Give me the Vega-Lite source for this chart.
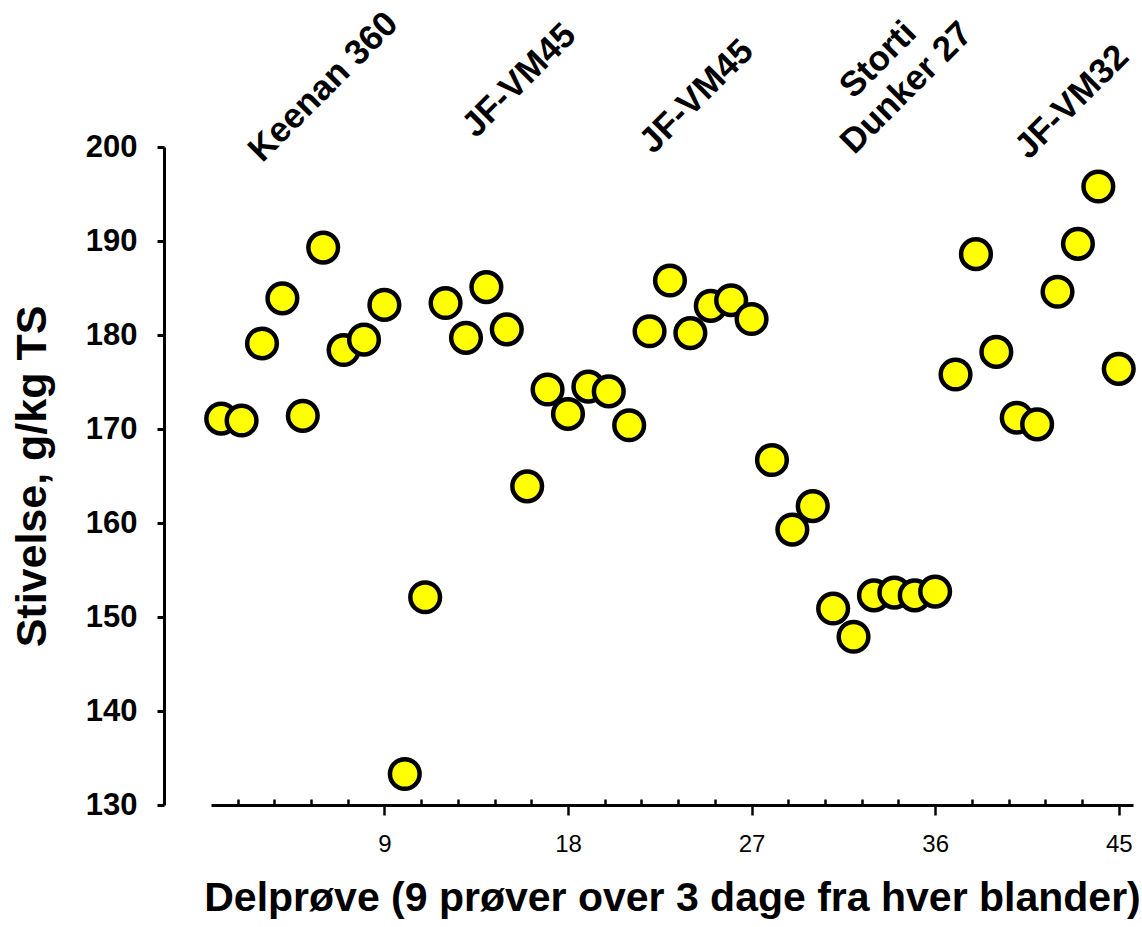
{
  "$schema": "https://vega.github.io/schema/vega-lite/v6.json",
  "width": 922,
  "height": 658,
  "autosize": {"type": "none"},
  "padding": {"left": 211, "top": 147, "right": 9, "bottom": 122},
  "background": "white",
  "config": {
    "view": {"stroke": null},
    "axis": {"grid": false, "domainColor": "black", "tickColor": "black", "labelColor": "black", "titleColor": "black"}
  },
  "datasets": {
    "points": [
      {"sample": 1, "starch": 171.1}, {"sample": 2, "starch": 170.9}, {"sample": 3, "starch": 179.1},
      {"sample": 4, "starch": 183.9}, {"sample": 5, "starch": 171.4}, {"sample": 6, "starch": 189.3},
      {"sample": 7, "starch": 178.4}, {"sample": 8, "starch": 179.5}, {"sample": 9, "starch": 183.2},
      {"sample": 10, "starch": 133.3}, {"sample": 11, "starch": 152.1}, {"sample": 12, "starch": 183.4},
      {"sample": 13, "starch": 179.7}, {"sample": 14, "starch": 185.1}, {"sample": 15, "starch": 180.6},
      {"sample": 16, "starch": 163.9}, {"sample": 17, "starch": 174.2}, {"sample": 18, "starch": 171.6},
      {"sample": 19, "starch": 174.5}, {"sample": 20, "starch": 174.0}, {"sample": 21, "starch": 170.4},
      {"sample": 22, "starch": 180.4}, {"sample": 23, "starch": 185.8}, {"sample": 24, "starch": 180.2},
      {"sample": 25, "starch": 183.1}, {"sample": 26, "starch": 183.7}, {"sample": 27, "starch": 181.7},
      {"sample": 28, "starch": 166.7}, {"sample": 29, "starch": 159.3}, {"sample": 30, "starch": 161.8},
      {"sample": 31, "starch": 150.9}, {"sample": 32, "starch": 147.9}, {"sample": 33, "starch": 152.3},
      {"sample": 34, "starch": 152.6}, {"sample": 35, "starch": 152.3}, {"sample": 36, "starch": 152.7},
      {"sample": 37, "starch": 175.8}, {"sample": 38, "starch": 188.6}, {"sample": 39, "starch": 178.2},
      {"sample": 40, "starch": 171.2}, {"sample": 41, "starch": 170.5}, {"sample": 42, "starch": 184.6},
      {"sample": 43, "starch": 189.7}, {"sample": 44, "starch": 195.8}, {"sample": 45, "starch": 176.4}
    ],
    "labels": [
      {"pos": 6.0, "level": 206.4, "label": "Keenan 360"},
      {"pos": 15.6, "level": 207.1, "label": "JF-VM45"},
      {"pos": 24.3, "level": 205.4, "label": "JF-VM45"},
      {"pos": 33.2, "level": 209.3, "label": "Storti\nDunker 27"},
      {"pos": 42.7, "level": 204.8, "label": "JF-VM32"}
    ]
  },
  "resolve": {"axis": {"x": "independent"}},
  "layer": [
    {
      "data": {"name": "points"},
      "mark": {"type": "point", "shape": "circle", "filled": true, "fill": "#FFFF00", "stroke": "black", "strokeWidth": 4.5, "size": 880, "opacity": 1},
      "encoding": {
        "x": {
          "field": "sample", "type": "quantitative",
          "scale": {"domain": [0.5, 45.7], "nice": false, "zero": false},
          "axis": {
            "orient": "bottom",
            "title": "Delprøve (9 prøver over 3 dage fra hver blander)",
            "values": [9, 18, 27, 36, 45],
            "tickSize": 10,
            "tickWidth": 2.5,
            "domainWidth": 3,
            "labelFont": "Liberation Sans",
            "labelFontSize": 24,
            "labelPadding": 17,
            "labelFlush": false,
            "labelOverlap": false,
            "titleFont": "Liberation Sans",
            "titleFontSize": 41,
            "titleFontWeight": "bold",
            "titlePadding": 22
          }
        },
        "y": {
          "field": "starch", "type": "quantitative",
          "scale": {"domain": [130, 200], "nice": false, "zero": false},
          "axis": {
            "title": "Stivelse, g/kg TS",
            "values": [130, 140, 150, 160, 170, 180, 190, 200],
            "offset": 47,
            "tickSize": 7,
            "tickWidth": 3,
            "domainWidth": 3,
            "labelFont": "Liberation Sans",
            "labelFontWeight": "bold",
            "labelFontSize": 31,
            "labelPadding": 20,
            "titleFont": "Liberation Sans",
            "titleFontSize": 43,
            "titleFontWeight": "bold",
            "titlePadding": 31
          }
        }
      }
    },
    {
      "data": {"name": "labels"},
      "mark": {"type": "text", "angle": -45, "align": "center", "baseline": "middle", "font": "Liberation Sans", "fontWeight": "bold", "fontSize": 35, "lineBreak": "\n", "lineHeight": 40, "color": "black"},
      "encoding": {
        "x": {
          "field": "pos", "type": "quantitative",
          "axis": {
            "orient": "bottom",
            "title": null,
            "values": [1.8, 3.6, 5.4, 7.2, 10.8, 12.6, 14.4, 16.2, 19.8, 21.6, 23.4, 25.2, 28.8, 30.6, 32.4, 34.2, 37.8, 39.6, 41.4, 43.2],
            "labels": false,
            "domain": false,
            "tickSize": -6,
            "tickWidth": 2.5
          }
        },
        "y": {"field": "level", "type": "quantitative"},
        "text": {"field": "label"}
      }
    }
  ]
}
